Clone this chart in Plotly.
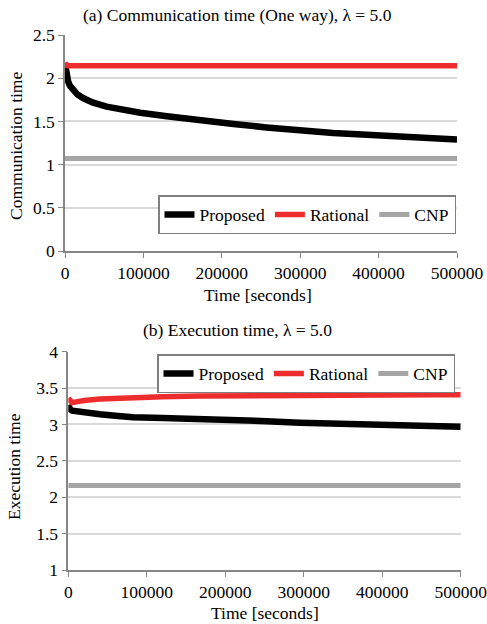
import plotly.graph_objects as go

# ---- data ----
comm_time = [0, 1000, 2100, 4000, 6400, 10000, 16000, 23000, 35000, 53000, 75000, 96000,
             130000, 172000, 215000, 257000, 300000, 342000, 385000, 427000, 465000, 500000]
comm_proposed = [2.17, 2.07, 2.02, 1.96, 1.91, 1.86, 1.81, 1.77, 1.72, 1.67, 1.63, 1.60,
                 1.56, 1.51, 1.47, 1.43, 1.39, 1.365, 1.345, 1.33, 1.31, 1.29]
comm_rational = [2.18, 2.16, 2.15, 2.145, 2.145, 2.145, 2.145, 2.145, 2.145, 2.145, 2.145, 2.145,
                 2.145, 2.145, 2.145, 2.145, 2.145, 2.145, 2.145, 2.145, 2.145, 2.145]
comm_cnp = [1.07] * len(comm_time)

exec_time = [0, 2000, 5000, 10000, 15000, 20000, 40000, 60000, 82000, 120000, 168000,
             210000, 253000, 295000, 340000, 380000, 420000, 465000, 500000]
exec_proposed = [3.27, 3.21, 3.19, 3.18, 3.17, 3.165, 3.14, 3.12, 3.10, 3.09, 3.08,
                 3.065, 3.045, 3.025, 3.01, 3.0, 2.99, 2.98, 2.97]
exec_rational = [3.36, 3.32, 3.30, 3.31, 3.32, 3.33, 3.35, 3.36, 3.37, 3.38, 3.39,
                 3.395, 3.40, 3.40, 3.405, 3.405, 3.41, 3.41, 3.41]
exec_cnp = [2.16] * len(exec_time)

x_ticks = [0, 100000, 200000, 300000, 400000, 500000]
x_ticklabels = ["0", "100000", "200000", "300000", "400000", "500000"]
series_names = ["Proposed", "Rational", "CNP"]
series_colors = ["#000000", "#ED2D2D", "#A5A5A5"]

W, H = 487, 624


def px(x):
    return x / W


def py(y):
    return 1 - y / H


FONT = "Liberation Serif"
FS = 17.5

fig = go.Figure()

top_sets = [comm_proposed, comm_rational, comm_cnp]
bot_sets = [exec_proposed, exec_rational, exec_cnp]
widths = [6.5, 5.5, 5]
for i, name in enumerate(series_names):
    fig.add_trace(go.Scatter(x=comm_time, y=top_sets[i], mode="lines", name=name,
                             line=dict(color=series_colors[i], width=widths[i]),
                             xaxis="x", yaxis="y", legend="legend"))
for i, name in enumerate(series_names):
    fig.add_trace(go.Scatter(x=exec_time, y=bot_sets[i], mode="lines", name=name,
                             line=dict(color=series_colors[i], width=widths[i]),
                             xaxis="x2", yaxis="y2", legend="legend2"))

axis_common = dict(showline=True, linecolor="#868686", linewidth=1.5,
                   ticks="outside", ticklen=5, tickcolor="#868686", tickwidth=1,
                   tickfont=dict(family=FONT, size=FS, color="#000"),
                   ticklabeloverflow="allow",
                   zeroline=False, automargin=False)

txt = dict(family=FONT, size=FS, color="#000")

fig.update_layout(
    width=W, height=H,
    margin=dict(l=0, r=0, t=0, b=0),
    paper_bgcolor="white", plot_bgcolor="white",
    font=txt,
    showlegend=True,
    xaxis=dict(domain=[px(65), px(457)], anchor="y", range=[0, 500000],
               tickvals=x_ticks, ticktext=x_ticklabels, showgrid=False,
               **axis_common),
    yaxis=dict(domain=[py(251), py(35)], anchor="x", range=[0, 2.5],
               tickvals=[0, 0.5, 1, 1.5, 2, 2.5], ticktext=["0", "0.5", "1", "1.5", "2", "2.5"],
               showgrid=True, gridcolor="#D9D9D9", gridwidth=1.5,
               **axis_common),
    xaxis2=dict(domain=[px(68.3), px(460.7)], anchor="y2", range=[0, 500000],
                tickvals=x_ticks, ticktext=x_ticklabels, showgrid=False,
                **axis_common),
    yaxis2=dict(domain=[py(570), py(351.7)], anchor="x2", range=[1, 4],
                tickvals=[1, 1.5, 2, 2.5, 3, 3.5, 4], ticktext=["1", "1.5", "2", "2.5", "3", "3.5", "4"],
                showgrid=True, gridcolor="#D9D9D9", gridwidth=1.5,
                **axis_common),
    legend=dict(x=px(158), y=py(195), xanchor="left", yanchor="top",
                orientation="h", bgcolor="white", bordercolor="#7F7F7F", borderwidth=1.5,
                font=txt, itemwidth=30, tracegroupgap=0),
    legend2=dict(x=px(157), y=py(354), xanchor="left", yanchor="top",
                 orientation="h", bgcolor="white", bordercolor="#7F7F7F", borderwidth=1.5,
                 font=txt, itemwidth=30, tracegroupgap=0),
    annotations=[
        dict(text="(a) Communication time (One way), λ = 5.0", x=px(237), y=py(15),
             xref="paper", yref="paper", xanchor="center", yanchor="middle",
             showarrow=False, font=txt),
        dict(text="(b) Execution time, λ = 5.0", x=px(237), y=py(330),
             xref="paper", yref="paper", xanchor="center", yanchor="middle",
             showarrow=False, font=txt),
        dict(text="Time [seconds]", x=px(258), y=py(295),
             xref="paper", yref="paper", xanchor="center", yanchor="middle",
             showarrow=False, font=txt),
        dict(text="Time [seconds]", x=px(265), y=py(613),
             xref="paper", yref="paper", xanchor="center", yanchor="middle",
             showarrow=False, font=txt),
        dict(text="Communication time", x=px(16), y=py(146), textangle=-90,
             xref="paper", yref="paper", xanchor="center", yanchor="middle",
             showarrow=False, font=txt),
        dict(text="Execution time", x=px(14), y=py(467), textangle=-90,
             xref="paper", yref="paper", xanchor="center", yanchor="middle",
             showarrow=False, font=txt),
    ],
)

# remove the default page margin so the figure fills the window exactly
fig.write_html("out.html", config={"displayModeBar": False},
               post_script="document.body.style.margin='0';document.body.style.overflow='hidden';")
